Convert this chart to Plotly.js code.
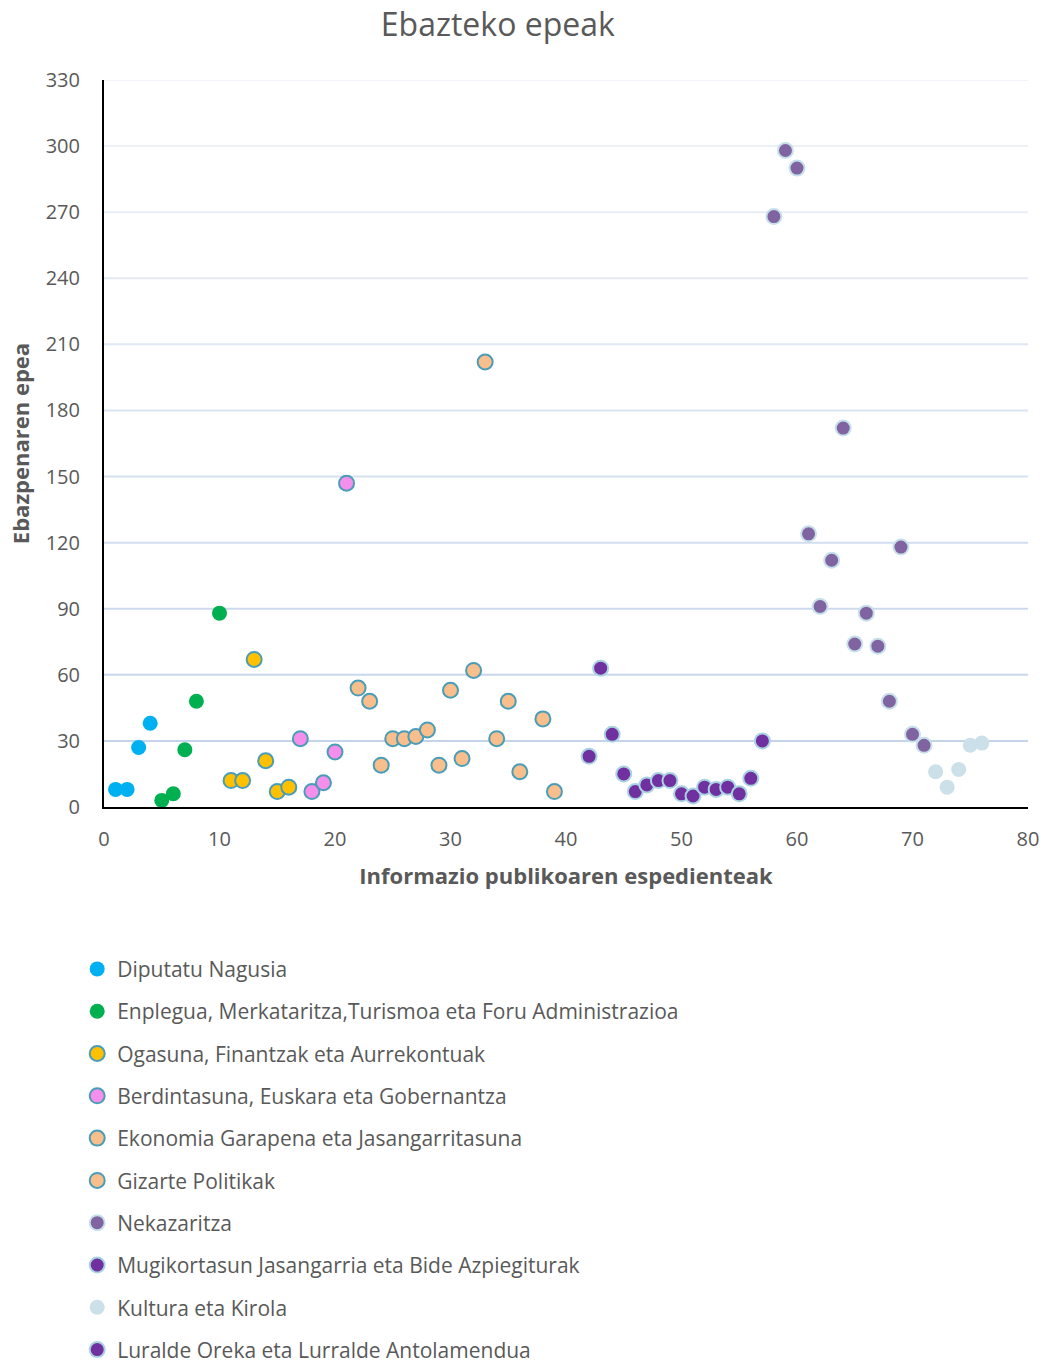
<!DOCTYPE html>
<html>
<head>
<meta charset="utf-8">
<script src="https://cdn.plot.ly/plotly-3.0.1.min.js"></script>
<style>html,body{margin:0;padding:0;background:#fff;}#chart{width:1048px;height:1365px;}</style>
</head>
<body>
<div id="chart"></div>
<script>
// ---- data ----
const diputatuX = [1, 2, 3, 4];
const diputatuY = [8, 8, 27, 38];

const enpleguaX = [5, 6, 7, 8, 10];
const enpleguaY = [3, 6, 26, 48, 88];

const ogasunaX = [11, 12, 13, 14, 15, 16];
const ogasunaY = [12, 12, 67, 21, 7, 9];

const berdintasunaX = [17, 18, 19, 20, 21];
const berdintasunaY = [31, 7, 11, 25, 147];

const ekonomiaX = [22, 23, 24, 25, 26, 27, 28];
const ekonomiaY = [54, 48, 19, 31, 31, 32, 35];

const gizarteX = [29, 30, 31, 32, 33, 34, 35, 36, 38, 39];
const gizarteY = [19, 53, 22, 62, 202, 31, 48, 16, 40, 7];

const nekazaritzaX = [58, 59, 60, 61, 62, 63, 64, 65, 66, 67, 68, 69, 70, 71];
const nekazaritzaY = [268, 298, 290, 124, 91, 112, 172, 74, 88, 73, 48, 118, 33, 28];

const mugikortasunX = [42, 43, 44, 45, 46, 47, 48, 49, 50, 51];
const mugikortasunY = [23, 63, 33, 15, 7, 10, 12, 12, 6, 5];

const kulturaX = [72, 73, 74, 75, 76];
const kulturaY = [16, 9, 17, 28, 29];

const luraldeX = [52, 53, 54, 55, 56, 57];
const luraldeY = [9, 8, 9, 6, 13, 30];

const seriesNames = [
  "Diputatu Nagusia",
  "Enplegua, Merkataritza,Turismoa eta Foru Administrazioa",
  "Ogasuna, Finantzak eta Aurrekontuak",
  "Berdintasuna, Euskara eta Gobernantza",
  "Ekonomia Garapena eta Jasangarritasuna",
  "Gizarte Politikak",
  "Nekazaritza",
  "Mugikortasun Jasangarria eta Bide Azpiegiturak",
  "Kultura eta Kirola",
  "Luralde Oreka eta Lurralde Antolamendua"
];

const yTicks = [0, 30, 60, 90, 120, 150, 180, 210, 240, 270, 300, 330];
const xTicks = [0, 10, 20, 30, 40, 50, 60, 70, 80];

// ---- styles ----
const TXT = '#595959';
const FONT = 'Open Sans, sans-serif';
const teal = '#4A9DB8';
const pale = '#C6E0EA';
const styles = [
  {fill: '#00B0F0', line: 'rgba(0,0,0,0)', w: 0},
  {fill: '#00B050', line: 'rgba(0,0,0,0)', w: 0},
  {fill: '#FFC000', line: teal, w: 2},
  {fill: '#F48FEC', line: teal, w: 2},
  {fill: '#F8BE8C', line: teal, w: 2},
  {fill: '#F8BE8C', line: teal, w: 2},
  {fill: '#8064A2', line: pale, w: 2},
  {fill: '#7030A0', line: '#A9D3E0', w: 2},
  {fill: '#CCE0E9', line: 'rgba(0,0,0,0)', w: 0},
  {fill: '#7030A0', line: '#A9D3E0', w: 2}
];
const xs = [diputatuX, enpleguaX, ogasunaX, berdintasunaX, ekonomiaX, gizarteX, nekazaritzaX, mugikortasunX, kulturaX, luraldeX];
const ys = [diputatuY, enpleguaY, ogasunaY, berdintasunaY, ekonomiaY, gizarteY, nekazaritzaY, mugikortasunY, kulturaY, luraldeY];

const traces = seriesNames.map((n, i) => ({
  type: 'scatter', mode: 'markers', name: n,
  x: xs[i], y: ys[i], legendgroup: 'g' + i,
  marker: {size: 15, color: styles[i].fill, line: {color: styles[i].line, width: styles[i].w}},
  cliponaxis: false
}));

// gridlines fading toward top
const shapes = yTicks.filter(v => v > 0).map((v, k, arr) => {
  const t = k / (arr.length - 1); // 0 bottom -> 1 top
  const c0 = [196, 212, 234], c1 = [240, 244, 250];
  const c = c0.map((a, j) => Math.round(a + (c1[j] - a) * t));
  return {type: 'line', xref: 'paper', yref: 'y', x0: 0, x1: 1, y0: v, y1: v,
          line: {color: `rgb(${c.join(',')})`, width: 2}, layer: 'below'};
});

const layout = {
  width: 1048, height: 1365,
  paper_bgcolor: '#fff', plot_bgcolor: '#fff',
  margin: {l: 104, r: 20, t: 80, b: 558, autoexpand: false},
  font: {family: FONT, color: TXT, size: 20},
  title: {text: 'Ebazteko epeak', font: {family: FONT, size: 32, color: TXT},
          xref: 'container', x: 0.475, xanchor: 'center', yref: 'container', y: 0.982, yanchor: 'middle'},
  xaxis: {range: [0, 80], tickvals: xTicks, ticktext: xTicks.map(String),
          showgrid: false, zeroline: false, showline: true, linecolor: '#000', linewidth: 2,
          ticks: 'outside', ticklen: 13, tickcolor: 'rgba(0,0,0,0)',
          tickfont: {family: FONT, size: 20, color: TXT},
          title: {text: '<b>Informazio publikoaren espedienteak</b>', font: {family: FONT, size: 22, color: TXT}, standoff: 18}},
  yaxis: {range: [0, 330], tickvals: yTicks, ticktext: yTicks.map(String),
          showgrid: false, zeroline: false, showline: true, linecolor: '#000', linewidth: 2,
          ticks: 'outside', ticklen: 18, tickcolor: 'rgba(0,0,0,0)',
          tickfont: {family: FONT, size: 20, color: TXT},
          title: {text: '<b>Ebazpenaren epea</b>', font: {family: FONT, size: 22, color: TXT}, standoff: 10}},
  shapes: shapes,
  showlegend: true,
  legend: {orientation: 'v', x: -0.029, xanchor: 'left', y: -0.195, yanchor: 'top',
           font: {family: FONT, size: 21, color: TXT}, tracegroupgap: 12, itemwidth: 30,
           bgcolor: 'rgba(0,0,0,0)'}
};

Plotly.newPlot('chart', traces, layout, {displayModeBar: false, staticPlot: true});
</script>
</body>
</html>
